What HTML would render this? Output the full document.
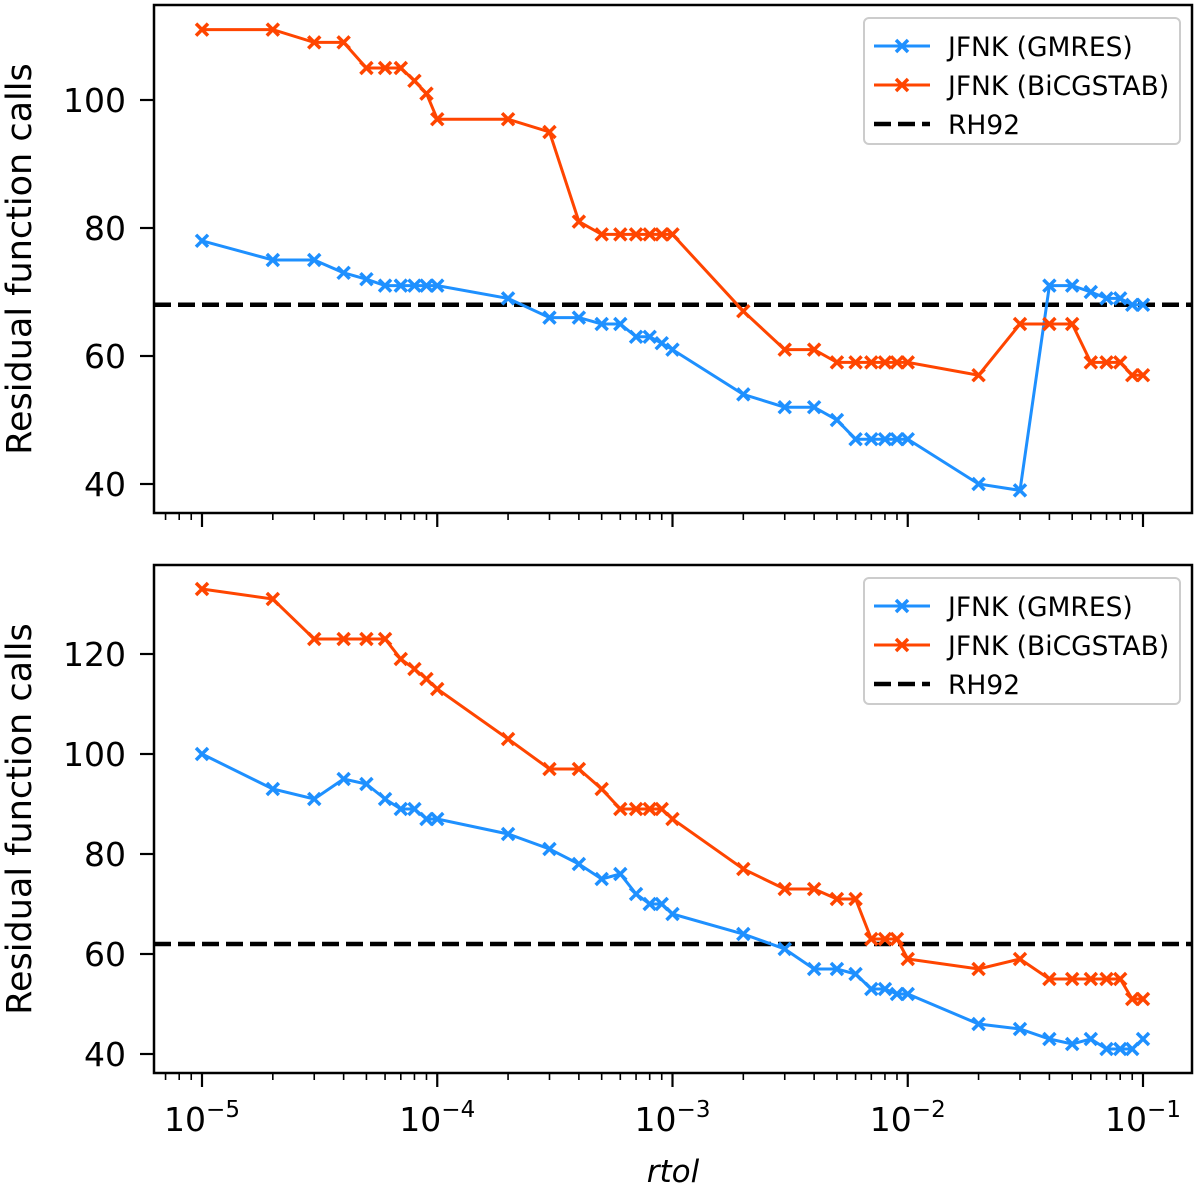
<!DOCTYPE html>
<html><head><meta charset="utf-8"><style>
html,body{margin:0;padding:0;background:#fff;}
svg{display:block;font-family:"DejaVu Sans","Liberation Sans",sans-serif;}
</style></head><body>
<svg id="chart" width="1200" height="1189" viewBox="0 0 1200 1189" xmlns="http://www.w3.org/2000/svg"></svg>
<script>
const xValues=[1e-5,2e-5,3e-5,4e-5,5e-5,6e-5,7e-5,8e-5,9e-5,1e-4,2e-4,3e-4,4e-4,5e-4,6e-4,7e-4,8e-4,9e-4,1e-3,2e-3,3e-3,4e-3,5e-3,6e-3,7e-3,8e-3,9e-3,1e-2,2e-2,3e-2,4e-2,5e-2,6e-2,7e-2,8e-2,9e-2,1e-1];
const topBiCG=[111,111,109,109,105,105,105,103,101,97,97,95,81,79,79,79,79,79,79,67,61,61,59,59,59,59,59,59,57,65,65,65,59,59,59,57,57];
const topGMRES=[78,75,75,73,72,71,71,71,71,71,69,66,66,65,65,63,63,62,61,54,52,52,50,47,47,47,47,47,40,39,71,71,70,69,69,68,68];
const topRH92=68;
const botBiCG=[133,131,123,123,123,123,119,117,115,113,103,97,97,93,89,89,89,89,87,77,73,73,71,71,63,63,63,59,57,59,55,55,55,55,55,51,51];
const botGMRES=[100,93,91,95,94,91,89,89,87,87,84,81,78,75,76,72,70,70,68,64,61,57,57,56,53,53,52,52,46,45,43,42,43,41,41,41,43];
const botRH92=62;
const xTickExps=[-5,-4,-3,-2,-1];
const topYTicks=[40,60,80,100];
const botYTicks=[40,60,80,100,120];

const NS="http://www.w3.org/2000/svg";
const svg=document.getElementById('chart');
function mk(tag,attrs,parent){const e=document.createElementNS(NS,tag);for(const k in attrs)e.setAttribute(k,attrs[k]);(parent||svg).appendChild(e);return e;}
const X0=154,X1=1192;
function xs(v){return 202+(Math.log10(v)+5)*235.25;}
const BLUE="#1e90ff",RED="#ff4500";

function panel(name,top,bottom,yScale,yTicks,gm,bi,rh){
  const g=mk('g',{});
  
  
  const rl=mk('line',{x1:X0,x2:X1,y1:yScale(rh),y2:yScale(rh),stroke:'#000','stroke-width':4.5,'stroke-dasharray':'17,7'},g);
  
  
  [[gm,BLUE,'gmres'],[bi,RED,'bicgstab']].forEach(([arr,col,nm])=>{
    const pts=arr.map((v,i)=>xs(xValues[i]).toFixed(1)+','+yScale(v).toFixed(1)).join(' ');
    const pl=mk('polyline',{points:pts,fill:'none',stroke:col,'stroke-width':3},g);
    
    
    arr.forEach((v,i)=>{
      const cx=xs(xValues[i]),cy=yScale(v),s=6;
      const m=mk('path',{d:`M${cx-s},${cy-s}L${cx+s},${cy+s}M${cx-s},${cy+s}L${cx+s},${cy-s}`,stroke:col,'stroke-width':3.5},g);
      
      
    });
  });
  const fr=mk('rect',{x:X0,y:top,width:X1-X0,height:bottom-top,fill:'none',stroke:'#000','stroke-width':2.5},g);
  
  
  yTicks.forEach(t=>{
    const y=yScale(t);
    mk('line',{x1:X0-14,x2:X0,y1:y,y2:y,stroke:'#000','stroke-width':2.2},g);
    const tx=mk('text',{x:X0-28,y:y+12,'text-anchor':'end','font-size':33},g);
    tx.textContent=t;
    
    
  });
  for(let e=-6;e<=-1;e++){for(let m=1;m<=9;m++){const v=m*Math.pow(10,e);const x=xs(v);if(x<X0||x>X1)continue;
    mk('line',{x1:x,x2:x,y1:bottom,y2:bottom+(m===1?14:7),stroke:'#000','stroke-width':m===1?2.2:1.6},g);}}
  const yl=mk('text',{x:0,y:0,'font-size':35,'text-anchor':'middle',transform:`translate(31,${(top+bottom)/2}) rotate(-90)`},g);
  yl.textContent='Residual function calls';
  
  
  const ly=top+13;
  const lg=mk('g',{},g);
  
  
  mk('rect',{x:864,y:ly,width:316,height:126,rx:5,fill:'#fff',stroke:'#ccc','stroke-width':2,'fill-opacity':0.8},lg);
  [['JFNK (GMRES)',BLUE,false],['JFNK (BiCGSTAB)',RED,false],['RH92','#000',true]].forEach((it,i)=>{
    const yy=ly+28+i*39;
    const le=mk('g',{},lg);
    
    
    if(it[2]){mk('line',{x1:874,x2:930,y1:yy,y2:yy,stroke:'#000','stroke-width':4.5,'stroke-dasharray':'17,7'},le);}
    else{mk('line',{x1:874,x2:930,y1:yy,y2:yy,stroke:it[1],'stroke-width':3},le);
      mk('path',{d:`M896,${yy-6}L908,${yy+6}M896,${yy+6}L908,${yy-6}`,stroke:it[1],'stroke-width':3.5},le);}
    const t=mk('text',{x:948,y:yy+10,'font-size':26.5},le);t.textContent=it[0];
  });
}
panel('top-panel',5,513,v=>484-(v-40)*6.4,topYTicks,topGMRES,topBiCG,topRH92);
panel('bottom-panel',565,1073,v=>1054-(v-40)*5,botYTicks,botGMRES,botBiCG,botRH92);
xTickExps.forEach(e=>{
  const x=xs(Math.pow(10,e));
  const t=mk('text',{x:x,y:1131,'text-anchor':'middle','font-size':33});
  
  
  t.appendChild(document.createTextNode('10'));
  const s=mk('tspan',{dy:-14,'font-size':23},t);s.textContent='\u2212'+(-e);
});
const xl=mk('text',{x:673,y:1182,'text-anchor':'middle','font-size':31,'font-style':'italic'});
xl.textContent='rtol';


</script>
</body></html>
